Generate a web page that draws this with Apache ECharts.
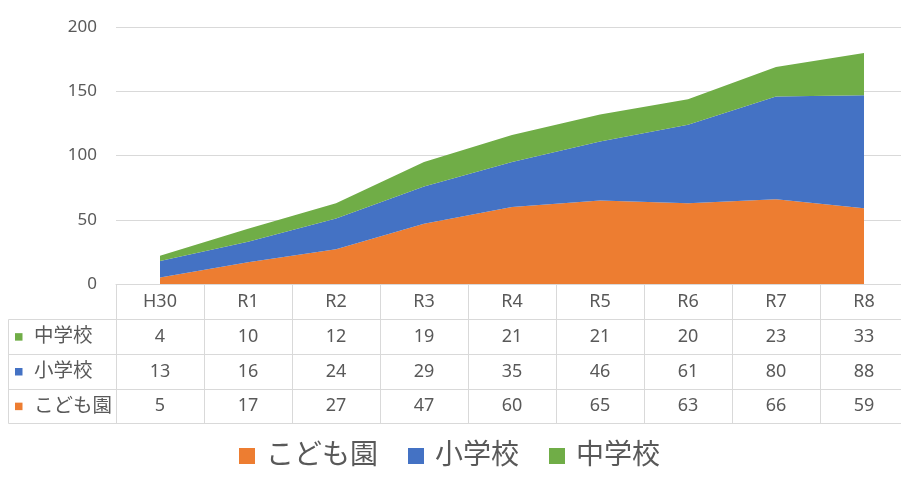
<!DOCTYPE html>
<html>
<head>
<meta charset="utf-8">
<script src="https://cdn.jsdelivr.net/npm/echarts@6/dist/echarts.min.js"></script>
<style>
html,body{margin:0;padding:0;background:#fff;overflow:hidden;width:901px;height:479px;}
#main{width:909px;height:479px;}
</style>
</head>
<body>
<div id="main"></div>
<script>
const categories = ['H30','R1','R2','R3','R4','R5','R6','R7','R8'];
const kodomoen = [5,17,27,47,60,65,63,66,59];
const shogakko = [13,16,24,29,35,46,61,80,88];
const chugakko = [4,10,12,19,21,21,20,23,33];
const seriesNames = ['こども園','小学校','中学校'];
const yTicks = {min:0, max:200, interval:50};

const colors = {'こども園':'#ED7D31','小学校':'#4472C4','中学校':'#70AD47'};
const FONT = "'Noto Sans', 'Noto Sans CJK JP', sans-serif";
const TXT = '#595959';
const LINE = '#D9D9D9';

const gridLeft = 116, gridTop = 27.3, gridBottomY = 284, gridWidth = 792;
const rowH = [35.3, 34.7, 35, 34.3]; // header row, then 3 data rows
const offs = [0];
for (let i=0;i<rowH.length;i++) offs.push(offs[i]+rowH[i]);

// table rows in display order (top to bottom)
const tableRows = [
  {name:'中学校', data:chugakko},
  {name:'小学校', data:shogakko},
  {name:'こども園', data:kodomoen}
];

const chart = echarts.init(document.getElementById('main'), null, {renderer:'canvas'});

const xAxes = [{
  type:'category', data:categories, gridIndex:0, position:'bottom', boundaryGap:true,
  axisLine:{show:true, lineStyle:{color:LINE, width:1}},
  axisTick:{show:true, length:offs[4], lineStyle:{color:LINE, width:1}},
  axisLabel:{color:TXT, fontSize:18, fontFamily:FONT, margin:rowH[0]/2, verticalAlign:'middle', interval:0}
}];
tableRows.forEach((r,i)=>{
  xAxes.push({
    type:'category', data:r.data.map(String), gridIndex:0, position:'bottom', boundaryGap:true,
    offset:offs[i+1],
    axisLine:{show:true, lineStyle:{color:LINE, width:1}},
    axisTick:{show:false},
    axisLabel:{color:TXT, fontSize:18, fontFamily:FONT, margin:rowH[i+1]/2, verticalAlign:'middle', interval:0}
  });
});
xAxes.push({
  type:'category', data:categories, gridIndex:0, position:'bottom', boundaryGap:true,
  offset:offs[4],
  axisLine:{show:true, lineStyle:{color:LINE, width:1}},
  axisTick:{show:false}, axisLabel:{show:false}
});

const seriesData = [kodomoen, shogakko, chugakko];
const series = seriesNames.map((n,i)=>({
  name:n, type:'line', stack:'total', xAxisIndex:0, yAxisIndex:0,
  data:seriesData[i], showSymbol:false, symbol:'none',
  lineStyle:{width:0}, areaStyle:{color:colors[n], opacity:1},
  itemStyle:{color:colors[n]}, emphasis:{disabled:true}, animation:false
}));

// table row-header column (legend keys + names) and left borders
const graphics = [];
const x0 = 8.5;
for (let i=1;i<=4;i++){
  const y = Math.round(gridBottomY + offs[i]) + 0.5;
  graphics.push({type:'line', shape:{x1:x0, y1:y, x2:gridLeft, y2:y}, style:{stroke:LINE, lineWidth:1}, silent:true});
}
graphics.push({type:'line', shape:{x1:x0, y1:Math.round(gridBottomY+offs[1])+0.5, x2:x0, y2:Math.round(gridBottomY+offs[4])+0.5}, style:{stroke:LINE, lineWidth:1}, silent:true});
tableRows.forEach((r,i)=>{
  const cy = gridBottomY + offs[i+1] + rowH[i+1]/2;
  graphics.push({type:'rect', shape:{x:15, y:cy-3.5, width:7.5, height:7.5}, style:{fill:colors[r.name]}, silent:true});
  graphics.push({type:'text', x:34, y:cy, style:{text:r.name, fill:TXT, font:'19.5px ' + FONT, textVerticalAlign:'middle', textAlign:'left'}, silent:true});
});

chart.setOption({
  animation:false,
  backgroundColor:'#fff',
  grid:{left:gridLeft, top:gridTop, width:gridWidth, height:gridBottomY-gridTop, containLabel:false},
  xAxis:xAxes,
  yAxis:[{
    type:'value', min:yTicks.min, max:yTicks.max, interval:yTicks.interval,
    axisLine:{show:false}, axisTick:{show:false},
    splitLine:{show:true, lineStyle:{color:LINE, width:1}},
    axisLabel:{color:TXT, fontSize:17, fontFamily:FONT, margin:19}
  }],
  legend:{
    data:seriesNames, left:234, top:437, icon:'rect', itemWidth:16, itemHeight:16, itemGap:30,
    textStyle:{color:TXT, fontSize:28, fontFamily:FONT, padding:[0,0,0,6], width:112},
    selectedMode:false
  },
  series:series,
  graphic:graphics
});
</script>
</body>
</html>
